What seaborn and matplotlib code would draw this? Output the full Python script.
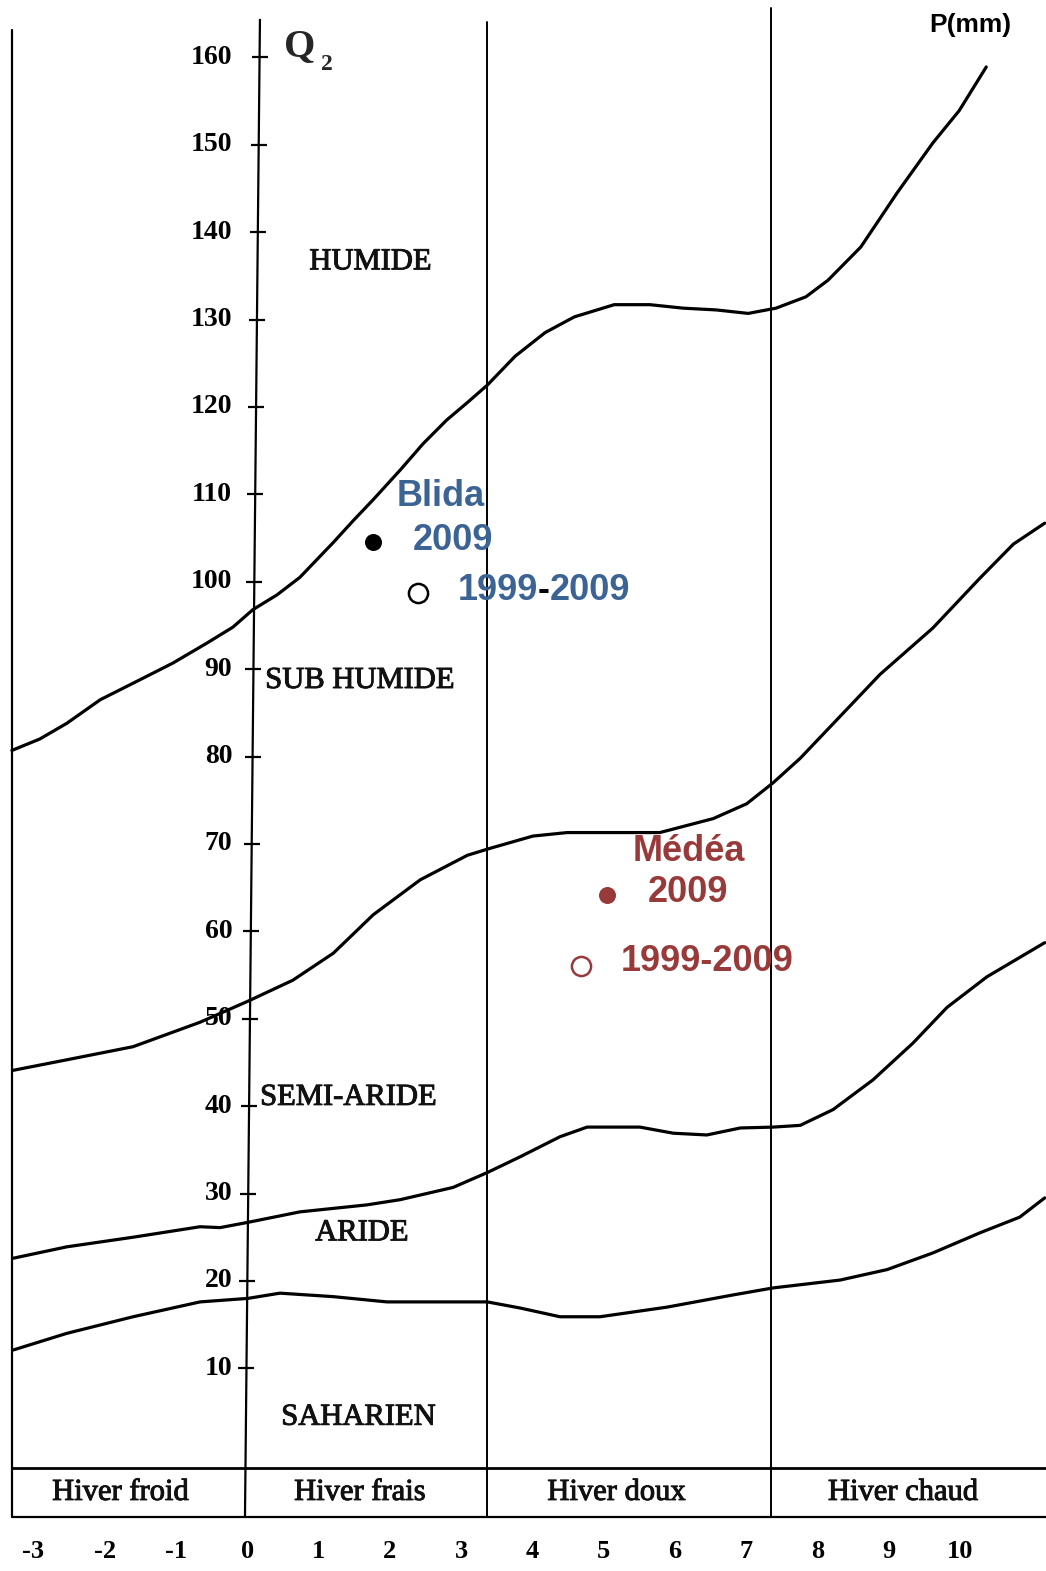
import numpy as np
import pandas as pd
import matplotlib
matplotlib.use("Agg")
import matplotlib.pyplot as plt
import matplotlib.patheffects as pe
import seaborn as sns

# --- Emberger climagram: Q2 versus m (mean minimum of the coldest month, °C) ---

# Boundary curves between bioclimatic stages (m in °C, Q2)
humid_m = [-3.30, -2.91, -2.53, -2.06, -1.50, -1.04, -0.56, -0.20, 0.08, 0.42, 0.74,
           1.21, 1.49, 1.77, 2.15, 2.47, 2.80, 3.09, 3.37, 3.76, 4.18, 4.59, 5.15,
           5.65, 6.12, 6.58, 7.03, 7.42, 7.84, 8.15, 8.61, 9.12, 9.62, 9.99, 10.37]
humid_q = [80.7, 82.0, 83.8, 86.5, 88.8, 90.7, 93.0, 94.8, 96.8, 98.5, 100.5,
           104.5, 107.0, 109.4, 112.8, 115.8, 118.5, 120.5, 122.5, 125.8, 128.5, 130.3, 131.7,
           131.7, 131.3, 131.1, 130.7, 131.3, 132.6, 134.5, 138.3, 144.5, 150.2, 153.9, 158.9]

subhumid_m = [-3.28, -2.53, -1.60, -0.66, 0.01, 0.64, 1.21, 1.77, 2.43, 3.09, 3.41, 4.01,
              4.49, 5.79, 6.54, 7.01, 7.38, 7.76, 8.32, 8.88, 9.62, 10.28, 10.75, 11.19]
subhumid_q = [44.1, 45.3, 46.8, 49.6, 52.0, 54.4, 57.5, 61.9, 65.9, 68.7, 69.5, 70.9,
              71.3, 71.3, 72.9, 74.6, 77.0, 79.8, 84.6, 89.4, 94.7, 100.4, 104.3, 106.7]

semiarid_m = [-3.28, -2.53, -1.60, -0.66, -0.38, 0.01, 0.74, 1.68, 2.15, 2.89, 3.37, 3.83,
              4.39, 4.77, 5.51, 5.98, 6.45, 6.92, 7.38, 7.76, 8.22, 8.78, 9.34, 9.82,
              10.38, 11.19]
semiarid_q = [22.6, 23.9, 25.0, 26.2, 26.1, 26.7, 27.9, 28.7, 29.3, 30.7, 32.4, 34.2,
              36.5, 37.6, 37.6, 36.9, 36.7, 37.5, 37.6, 37.8, 39.6, 43.0, 47.2, 51.3,
              54.8, 58.7]

arid_m = [-3.28, -2.53, -1.60, -0.66, 0.01, 0.46, 1.21, 1.96, 3.37, 3.83, 4.39, 4.95,
          5.89, 6.82, 7.38, 8.32, 8.98, 9.62, 10.28, 10.84, 11.19]
arid_q = [12.1, 14.0, 15.9, 17.6, 18.0, 18.6, 18.2, 17.6, 17.6, 16.9, 15.9, 15.9,
          17.0, 18.4, 19.2, 20.1, 21.3, 23.2, 25.5, 27.3, 29.5]

# Stations
stations = ["Blida", "Blida", "Médéa", "Médéa"]
periods = ["2009", "1999-2009", "2009", "1999-2009"]
station_m = [1.77, 2.40, 5.05, 4.69]
station_q = [104.6, 98.7, 64.2, 56.0]

# Axis labels
q2_ticks = [160, 150, 140, 130, 120, 110, 100, 90, 80, 70, 60, 50, 40, 30, 20, 10]
m_ticks = [-3, -2, -1, 0, 1, 2, 3, 4, 5, 6, 7, 8, 9, 10]
stage_names = ["HUMIDE", "SUB HUMIDE", "SEMI-ARIDE", "ARIDE", "SAHARIEN"]
stage_m = [1.73, 1.58, 1.42, 1.61, 1.56]
stage_q = [136.6, 88.7, 41.0, 25.5, 4.4]
winter_names = ["Hiver froid", "Hiver frais", "Hiver doux", "Hiver chaud"]
winter_m = [-1.78, 1.58, 5.18, 9.20]
winter_bounds = [-3.30, -0.03, 3.37, 7.35]

BLUE = "#3B6394"
BROWN = "#983A3A"
SERIF = ["Liberation Serif", "DejaVu Serif"]
SANS = ["Liberation Sans", "DejaVu Sans"]
INK = [pe.withStroke(linewidth=0.7, foreground="#111111")]

sns.set_theme(style="white")
plt.rcParams["font.family"] = SANS

fig = plt.figure(figsize=(10.46, 15.71), dpi=100)
ax = fig.add_axes([0, 0, 1, 1])
ax.set_xlim(-3.467, 11.208)
ax.set_ylim(-13.19, 166.56)
ax.axis("off")

# Stage boundary curves
for mm, qq in [(humid_m, humid_q), (subhumid_m, subhumid_q),
               (semiarid_m, semiarid_q), (arid_m, arid_q)]:
    df = pd.DataFrame({"m": mm, "Q2": qq})
    sns.lineplot(data=df, x="m", y="Q2", sort=False, color="black", lw=2.3,
                 ax=ax, estimator=None, solid_joinstyle="round",
                 solid_capstyle="round")

# Frame: left border, winter-class separators, bottom band
band_top, band_bot = -1.4, -7.0
ax.plot([winter_bounds[0]] * 2, [band_bot, 163.1], color="black", lw=1.6)
ax.plot([winter_bounds[2]] * 2, [band_bot, 164.0], color="black", lw=1.4)
ax.plot([winter_bounds[3]] * 2, [band_bot, 165.6], color="black", lw=1.4)
ax.plot([winter_bounds[0], 11.208], [band_top, band_top], color="black", lw=2.0)
ax.plot([winter_bounds[0], 11.208], [band_bot, band_bot], color="black", lw=1.6)

# Q2 axis (slightly leaning) with cross ticks
axis_q = np.array([band_bot, 164.3])
axis_m = np.array([-0.03, 0.18])
ax.plot(axis_m, axis_q, color="black", lw=1.6)
tick_q = np.array(q2_ticks, dtype=float)
tick_m = np.interp(tick_q, axis_q, axis_m)
ax.plot(tick_m, tick_q, ls="none", marker="_", ms=12, mew=1.6, color="black")
for q in q2_ticks:
    ax.text(-0.21, q, str(q), ha="right", va="center", fontsize=20,
            fontweight="bold", family=SERIF, color="black")

# m values under the band
for m in m_ticks:
    ax.text(m, -11.0, str(m), ha="center", va="center", fontsize=19,
            fontweight="bold", family=SERIF, color="black")

for name, m in zip(winter_names, winter_m):
    ax.text(m, -4.2, name, ha="center", va="center", fontsize=22,
            family=SERIF, color="#111111", path_effects=INK)

for name, m, q in zip(stage_names, stage_m, stage_q):
    ax.text(m, q, name, ha="center", va="center", fontsize=22,
            family=SERIF, color="#111111", path_effects=INK)

# Axis titles
ax.text(0.74, 161.2, "Q", ha="center", va="center", fontsize=29,
        fontweight="bold", family=SERIF)
ax.text(1.12, 159.2, "2", ha="center", va="center", fontsize=17,
        fontweight="bold", family=SERIF)
ax.text(10.14, 163.7, "P(mm)", ha="center", va="center", fontsize=19,
        fontweight="bold", family=SANS, color="black")

# Stations
st = pd.DataFrame({"station": stations, "period": periods,
                   "m": station_m, "Q2": station_q})
for (name, per), color in zip(
        [("Blida", "2009"), ("Blida", "1999-2009"), ("Médéa", "2009"), ("Médéa", "1999-2009")],
        ["black", "black", BROWN, BROWN]):
    sub = st[(st.station == name) & (st.period == per)]
    if per == "2009":
        sns.scatterplot(data=sub, x="m", y="Q2", color=color, s=150,
                        edgecolor=color, linewidth=0, ax=ax, zorder=5)
    else:
        sns.scatterplot(data=sub, x="m", y="Q2", facecolor="white", s=190,
                        edgecolor=color, linewidth=1.8, ax=ax, zorder=5)

kw = dict(fontsize=26, fontweight="bold", family=SANS, va="center")
ax.text(2.71, 109.7, "Blida", color=BLUE, ha="center", **kw)
ax.text(2.89, 104.7, "2009", color=BLUE, ha="center", **kw)
t1 = ax.text(2.95, 99.0, "1999", color=BLUE, ha="left", **kw)
t2 = ax.annotate("-", xy=(1, 0), xycoords=t1, ha="left", va="bottom",
                 color="black", fontsize=26, fontweight="bold", family=SANS)
ax.annotate("2009", xy=(1, 0), xycoords=t2, ha="left", va="bottom",
            color=BLUE, fontsize=26, fontweight="bold", family=SANS)

ax.text(6.19, 69.1, "Médéa", color=BROWN, ha="center", **kw)
ax.text(6.19, 64.4, "2009", color=BROWN, ha="center", **kw)
ax.text(6.45, 56.5, "1999-2009", color=BROWN, ha="center", **kw)

ax.set_xlabel("")
ax.set_ylabel("")
fig.savefig("out.png", dpi=100, facecolor="white")
